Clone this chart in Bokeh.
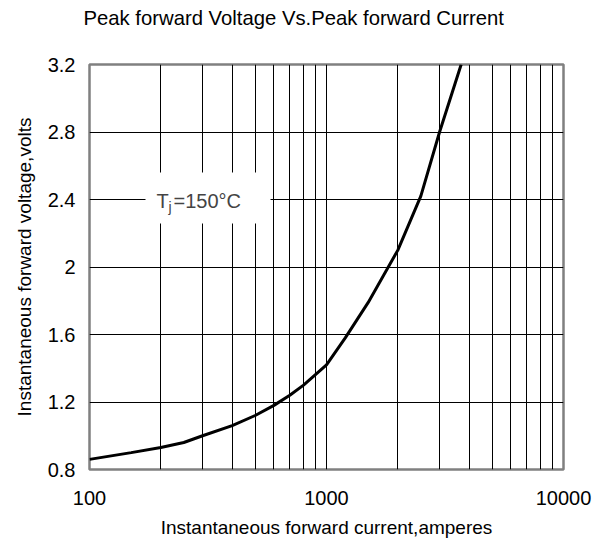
from bokeh.plotting import figure
from bokeh.models import FixedTicker, Label, BoxAnnotation, Title
from bokeh.embed import file_html
from bokeh.resources import INLINE

# ---- data ----
current = [100, 150, 200, 250, 300, 400, 500, 600, 700, 800, 1000, 1200, 1500, 2000, 2500, 3000, 3700]
voltage = [0.86, 0.90, 0.93, 0.96, 1.00, 1.06, 1.12, 1.18, 1.24, 1.30, 1.42, 1.58, 1.79, 2.10, 2.42, 2.80, 3.20]

x_ticks = [100, 1000, 10000]
x_tick_labels = ["100", "1000", "10000"]
x_grid = [200, 300, 400, 500, 600, 700, 800, 900, 1000,
          2000, 3000, 4000, 5000, 6000, 7000, 8000, 9000]
y_ticks = [0.8, 1.2, 1.6, 2.0, 2.4, 2.8, 3.2]
y_tick_labels = ["0.8", "1.2", "1.6", "2", "2.4", "2.8", "3.2"]

title_text = "Peak forward Voltage Vs.Peak forward Current"
x_label = "Instantaneous forward current,amperes"
y_label = "Instantaneous forward voltage,volts"

FONT = "Liberation Sans"

p = figure(width=594, height=546, x_axis_type="log",
           x_range=(100, 10000), y_range=(0.8, 3.2),
           output_backend="svg", toolbar_location=None,
           min_border_left=89, min_border_right=31,
           min_border_top=64, min_border_bottom=77)

p.background_fill_color = "white"
p.border_fill_color = "white"
p.outline_line_color = "#808080"
p.outline_line_width = 2.5

# title
p.title.text = title_text
p.title.text_font = FONT
p.title.text_font_size = "20.3px"
p.title.text_font_style = "normal"
p.title.text_color = "black"
p.title.align = "left"
p.title.offset = -6
p.title.standoff = 8

# empty spacer between the title and the plot frame
spacer = Title(text=" ", text_font_size="20px", text_font=FONT, standoff=8)
p.add_layout(spacer, "above")

# axes
p.xaxis.ticker = FixedTicker(ticks=x_ticks, minor_ticks=[])
p.xaxis.major_label_overrides = {t: l for t, l in zip(x_ticks, x_tick_labels)}
p.yaxis.ticker = FixedTicker(ticks=y_ticks, minor_ticks=[])
p.yaxis.major_label_overrides = {t: l for t, l in zip(y_ticks, y_tick_labels)}

for ax in (p.xaxis[0], p.yaxis[0]):
    ax.axis_line_color = None
    ax.major_tick_line_color = None
    ax.minor_tick_line_color = None
    ax.major_tick_out = 0
    ax.major_tick_in = 0
    ax.major_label_text_font = FONT
    ax.major_label_text_font_size = "20px"
    ax.major_label_text_color = "black"
    ax.axis_label_text_font = FONT
    ax.axis_label_text_font_size = "19px"
    ax.axis_label_text_font_style = "normal"
    ax.axis_label_text_color = "black"

p.xaxis.axis_label = x_label
p.yaxis.axis_label = y_label
p.xaxis.major_label_standoff = 21
p.xaxis.axis_label_standoff = 9
p.yaxis.major_label_standoff = 14
p.yaxis.axis_label_standoff = 10

# grid
p.xgrid.ticker = FixedTicker(ticks=x_grid)
p.ygrid.ticker = FixedTicker(ticks=y_ticks)
for g in (p.xgrid[0], p.ygrid[0]):
    g.grid_line_color = "black"
    g.grid_line_width = 1
    g.grid_line_alpha = 1.0

# curve
p.line(current, voltage, line_color="black", line_width=3)

# annotation box with T_j label
p.add_layout(BoxAnnotation(left=56, right=181, bottom=246, top=297,
                           left_units="screen", right_units="screen",
                           bottom_units="screen", top_units="screen",
                           fill_color="white", fill_alpha=1.0, line_color=None))
p.add_layout(Label(x=67, y=269, x_units="screen", y_units="screen", text="T",
                   text_font=FONT, text_font_size="20px", text_baseline="alphabetic"))
p.add_layout(Label(x=79, y=263, x_units="screen", y_units="screen", text="j",
                   text_font=FONT, text_font_size="14px", text_baseline="alphabetic"))
p.add_layout(Label(x=84, y=269, x_units="screen", y_units="screen", text="=150°C",
                   text_font=FONT, text_font_size="20px", text_baseline="alphabetic"))

open("out.html", "w").write(file_html(p, INLINE))
